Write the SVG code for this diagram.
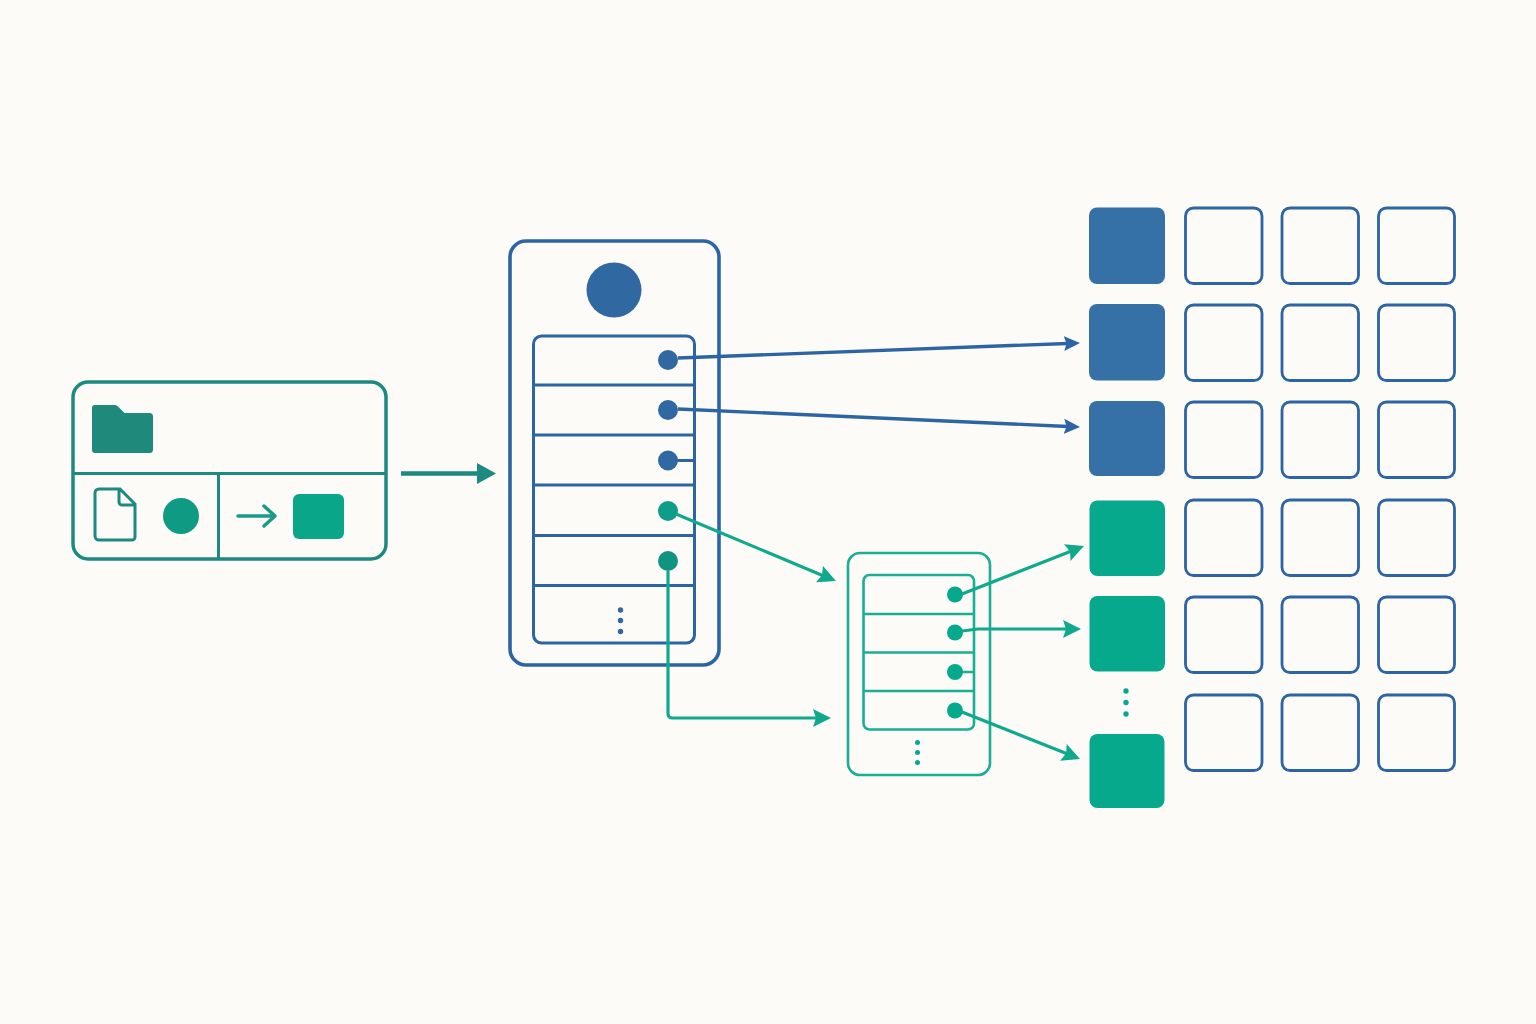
<svg xmlns="http://www.w3.org/2000/svg" width="1536" height="1024" viewBox="0 0 1536 1024">
<style>
.t{fill:none;stroke:#1c8a7e;stroke-width:3.5}
.t2{fill:none;stroke:#1c8a7e;stroke-width:3}
.tf{fill:#1f897c}
.g{fill:#0aa68a}
.gl{fill:none;stroke:#1aae92;stroke-width:2.6}
.b{fill:none;stroke:#2c64a4;stroke-width:3}
.b2{fill:none;stroke:#2c64a4;stroke-width:3.6}
.bf{fill:#3068a2}
.sq{fill:#3570a6}
.cell{fill:none;stroke:#2c64a4;stroke-width:2.8}
.cg{fill:#06a98c}
.cb{fill:none;stroke:#2c64a4;stroke-width:3.4}
.cgn{fill:none;stroke:#10a98c;stroke-width:3.2}
</style>
<defs>
<marker id="ab" markerUnits="userSpaceOnUse" markerWidth="18" markerHeight="18" refX="4" refY="8" orient="auto" viewBox="0 0 18 16"><path d="M0 0.500L16 8L0 15.500L2.500 8Z" fill="#2c64a4"/></marker>
<marker id="ag" markerUnits="userSpaceOnUse" markerWidth="20" markerHeight="20" refX="6" refY="9" orient="auto" viewBox="0 0 20 18"><path d="M0 0L18 9L0 18L3 9Z" fill="#10a98c"/></marker>
</defs>
<rect width="1536" height="1024" fill="#fcfbf8"/>
<g id="source">
<rect x="73" y="382" width="313" height="177" rx="15" class="t"/>
<path d="M74 473.500H385M218.500 473.500V558" class="t2"/>
<path class="tf" d="M92 408a3 3 0 0 1 3-3h20a4 4 0 0 1 3 1.500l6.500 6.500h25a3.500 3.500 0 0 1 3.500 3.500v33a3.500 3.500 0 0 1-3.500 3.500h-54.500a3 3 0 0 1-3-3z"/>
<path class="t2" d="M95 493a4 4 0 0 1 4-4h21l15 15v33a3 3 0 0 1-3 3h-33a4 4 0 0 1-4-4zM119 489v13a3 3 0 0 0 3 3h13"/>
<circle cx="181" cy="516" r="18" fill="#0f9a84"/>
<path d="M238 516H274M264 506L275 516L264 526" fill="none" stroke="#1c9a88" stroke-width="3.500" stroke-linecap="round" stroke-linejoin="round"/>
<rect x="293" y="494" width="51" height="45" rx="6" class="g"/>
</g>
<g id="index">
<rect x="510" y="241" width="209" height="424" rx="16" class="b2"/>
<circle cx="614" cy="290" r="27.500" class="bf"/>
<rect x="533.500" y="336" width="161" height="307" rx="8" class="b"/>
<path d="M534 385H694M534 435H694M534 485H694M534 535.500H694M534 585.500H694M668 460.500H694" class="b"/>
<circle cx="668" cy="360" r="10" class="bf"/>
<circle cx="668" cy="410" r="10" class="bf"/>
<circle cx="668" cy="460.500" r="10" class="bf"/>
<circle cx="668" cy="511" r="10" fill="#0f9c88"/>
<circle cx="668" cy="561" r="10" fill="#0f957f"/>
<circle cx="620.500" cy="610" r="2.700" class="bf"/><circle cx="620.500" cy="620.500" r="2.700" class="bf"/><circle cx="620.500" cy="631.500" r="2.700" class="bf"/>
</g>
<g id="subindex">
<rect x="848" y="553" width="142" height="222" rx="12" class="gl"/>
<rect x="863.500" y="575" width="110.500" height="154.500" rx="6" class="gl"/>
<path d="M864 614H974M864 652.500H974M864 691H974M955 672H974" class="gl"/>
<circle cx="955" cy="594.500" r="8" class="cg"/><circle cx="955" cy="632.500" r="8" class="cg"/><circle cx="955" cy="672" r="8" class="cg"/><circle cx="955" cy="710.500" r="8" class="cg"/>
<circle cx="917.500" cy="742.500" r="2.500" class="cg"/><circle cx="917.500" cy="752.500" r="2.500" class="cg"/><circle cx="917.500" cy="762.500" r="2.500" class="cg"/>
</g>
<g id="grid">
<rect x="1089" y="207.500" width="76" height="76.500" rx="8" class="sq"/>
<rect x="1089" y="304" width="76" height="76.500" rx="8" class="sq"/>
<rect x="1089" y="401" width="76" height="75" rx="8" class="sq"/>
<rect x="1089.500" y="500.500" width="75.500" height="75.500" rx="8" class="cg"/>
<rect x="1089.500" y="596" width="75.500" height="75.500" rx="8" class="cg"/>
<rect x="1089.500" y="734" width="75" height="74" rx="8" class="cg"/>
<circle cx="1126" cy="691" r="2.700" class="cg"/><circle cx="1126" cy="702.500" r="2.700" class="cg"/><circle cx="1126" cy="714" r="2.700" class="cg"/>
<rect x="1185.500" y="208" width="76.500" height="75.500" rx="8" class="cell"/><rect x="1282" y="208" width="76.500" height="75.500" rx="8" class="cell"/><rect x="1378.500" y="208" width="76" height="75.500" rx="8" class="cell"/>
<rect x="1185.500" y="305" width="76.500" height="75.500" rx="8" class="cell"/><rect x="1282" y="305" width="76.500" height="75.500" rx="8" class="cell"/><rect x="1378.500" y="305" width="76" height="75.500" rx="8" class="cell"/>
<rect x="1185.500" y="402" width="76.500" height="75.500" rx="8" class="cell"/><rect x="1282" y="402" width="76.500" height="75.500" rx="8" class="cell"/><rect x="1378.500" y="402" width="76" height="75.500" rx="8" class="cell"/>
<rect x="1185.500" y="500" width="76.500" height="75.500" rx="8" class="cell"/><rect x="1282" y="500" width="76.500" height="75.500" rx="8" class="cell"/><rect x="1378.500" y="500" width="76" height="75.500" rx="8" class="cell"/>
<rect x="1185.500" y="597" width="76.500" height="75.500" rx="8" class="cell"/><rect x="1282" y="597" width="76.500" height="75.500" rx="8" class="cell"/><rect x="1378.500" y="597" width="76" height="75.500" rx="8" class="cell"/>
<rect x="1185.500" y="695" width="76.500" height="75.500" rx="8" class="cell"/><rect x="1282" y="695" width="76.500" height="75.500" rx="8" class="cell"/><rect x="1378.500" y="695" width="76" height="75.500" rx="8" class="cell"/>
</g>
<g id="connectors">
<path d="M401 473.500H482" fill="none" stroke="#1c8a7e" stroke-width="4.500"/>
<path d="M477 463L496 473.500L477 484Z" fill="#1c8a7e"/>
<path d="M678 358L1068 343.450" class="cb" marker-end="url(#ab)"/>
<path d="M678 409L1068 426.460" class="cb" marker-end="url(#ab)"/>
<path d="M676 514L824.900 576.400" class="cgn" marker-end="url(#ag)"/>
<path d="M668 571V714a4 4 0 0 0 4 4H819" class="cgn" marker-end="url(#ag)"/>
<path d="M962 594L1072.800 550.400" class="cgn" marker-end="url(#ag)"/>
<path d="M962 631L978 629H1069" class="cgn" marker-end="url(#ag)"/>
<path d="M962 712L1068.900 754.600" class="cgn" marker-end="url(#ag)"/>
</g>
</svg>
